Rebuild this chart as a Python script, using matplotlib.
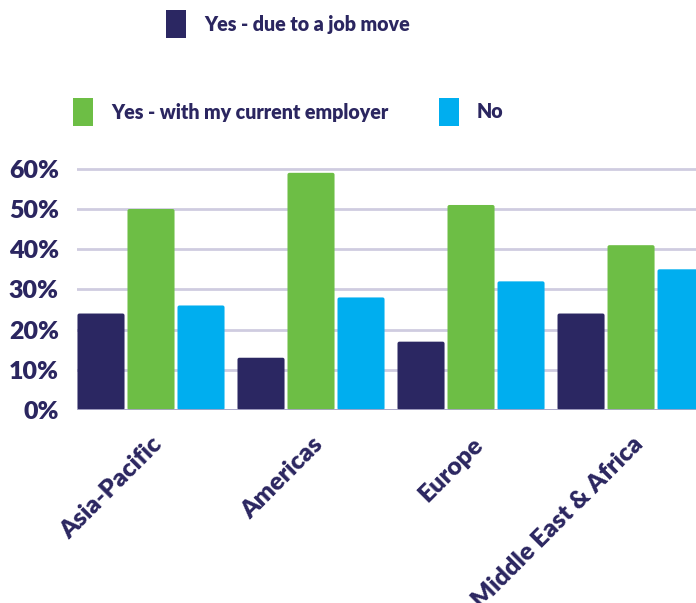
import matplotlib
matplotlib.use("Agg")
import matplotlib.pyplot as plt
from matplotlib.patches import FancyBboxPatch, Rectangle

regions = ["Asia-Pacific", "Americas", "Europe", "Middle East & Africa"]
series_names = ["Yes - due to a job move", "Yes - with my current employer", "No"]
job_move = [24, 13, 17, 24]
current_employer = [50, 59, 51, 41]
no_change = [26, 28, 32, 35]
y_ticks = [0, 10, 20, 30, 40, 50, 60]
y_tick_labels = ["0%", "10%", "20%", "30%", "40%", "50%", "60%"]

NAVY = "#2b2762"
GREEN = "#6dbe45"
CYAN = "#00aeef"
TEXT = "#2b2660"
GRID = "#cfcce0"

plt.rcParams["font.family"] = ["Lato", "DejaVu Sans"]
plt.rcParams["font.weight"] = "heavy"

W, H = 696, 603
fig = plt.figure(figsize=(W / 100, H / 100), dpi=100)

# axes placed in pixel terms: left edge 77px, baseline at y=410px
ymax = 61
px_per_unit = 4.02
ax_left, ax_bottom = 77, H - 410
ax_h = ymax * px_per_unit
ax = fig.add_axes([ax_left / W, ax_bottom / H, (W - ax_left) / W, ax_h / H])

series = [job_move, current_employer, no_change]
colors = [NAVY, GREEN, CYAN]
bar_w = 0.294
step = 0.3125
for k, (vals, col) in enumerate(zip(series, colors)):
    offset = (k - 1) * step
    for i, v in enumerate(vals):
        x0 = i + offset - bar_w / 2
        ax.add_patch(FancyBboxPatch((x0, 0), bar_w, v,
                                    boxstyle="round,pad=0,rounding_size=0.012",
                                    mutation_aspect=40,
                                    facecolor=col, edgecolor="none", zorder=3))

ax.set_xlim(-0.4625, 3.406)
ax.set_ylim(0, ymax)
ax.set_yticks(y_ticks)
ax.set_yticklabels(y_tick_labels)
ax.yaxis.grid(True, color=GRID, linewidth=2, zorder=0)
ax.axhline(0, color="#a9a6c6", linewidth=2, zorder=4)
for s in ax.spines.values():
    s.set_visible(False)
ax.tick_params(axis="y", length=0, pad=13, labelsize=18, labelcolor=TEXT)
for t in ax.get_yticklabels():
    t.set_fontweight("heavy")
ax.set_xticks([])

# rotated category labels
for i, name in enumerate(regions):
    xd = ax.transData.transform((i, 0))
    xf = (xd[0] + 8) / W
    fig.text(xf, (H - 441) / H, name, rotation=45, rotation_mode="anchor",
             ha="right", va="center", fontsize=18, color=TEXT,
             fontweight="heavy")

# legend drawn in figure pixel coordinates
legend_items = [
    (166, 24, NAVY, series_names[0]),
    (73, 112, GREEN, series_names[1]),
    (439, 112, CYAN, series_names[2]),
]
for x, yc, col, label in legend_items:
    fig.patches.append(Rectangle((x / W, (H - yc - 14) / H), 20 / W, 28 / H,
                                 transform=fig.transFigure, facecolor=col,
                                 edgecolor="none"))
    fig.text((x + 38) / W, (H - yc) / H, label, ha="left", va="center",
             fontsize=14.1, color=TEXT, fontweight="heavy")

fig.savefig("out.png", dpi=100)
